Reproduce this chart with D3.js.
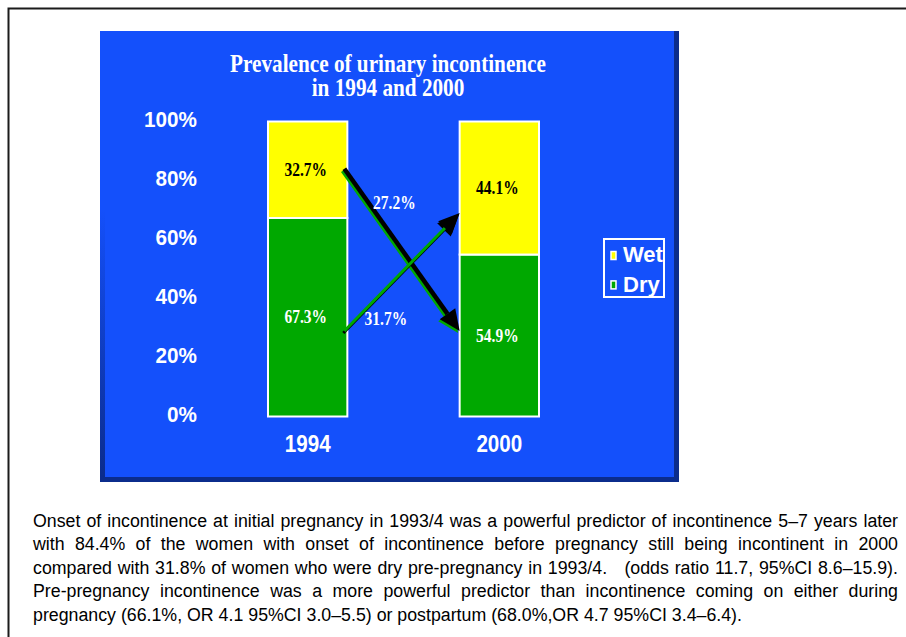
<!DOCTYPE html>
<html>
<head>
<meta charset="utf-8">
<script src="https://cdn.jsdelivr.net/npm/d3@7/dist/d3.min.js"></script>
<style>
  body { margin: 0; background: #fff; }
  svg { display: block; }
  .sans { font-family: "Liberation Sans", Arial, sans-serif; font-weight: bold; }
  .serif { font-family: "Liberation Serif", "Times New Roman", serif; font-weight: bold; }
  .para { font-family: "Liberation Sans Narrow", "Arial Narrow", "Liberation Sans", Arial, sans-serif; white-space: pre; }
</style>
</head>
<body>
<div id="chart"></div>
<script>
// data
var years = ["1994", "2000"];
var dryValues = [67.3, 54.9];
var wetValues = [32.7, 44.1];
var yTicks = [0, 20, 40, 60, 80, 100];
var legendNames = ["Wet", "Dry"];
// transitions drawn as arrows: start / end heights in % of the bars
var flowFrom = [84, 29];
var flowTo = [29, 69];
var flowLabels = ["27.2%", "31.7%"];
var titleLines = ["Prevalence of urinary incontinence", "in 1994 and 2000"];
var noteLines = [
  "Onset of incontinence at initial pregnancy in 1993/4 was a powerful predictor of incontinence 5\u20137 years later",
  "with 84.4% of the women with onset of incontinence before pregnancy still being incontinent in 2000",
  "compared with 31.8% of women who were dry pre-pregnancy in 1993/4.   (odds ratio 11.7, 95%CI 8.6\u201315.9).",
  "Pre-pregnancy incontinence was a more powerful predictor than incontinence coming on either during",
  "pregnancy (66.1%, OR 4.1 95%CI 3.0\u20135.5) or postpartum (68.0%,OR 4.7 95%CI 3.4\u20136.4)."
];

var W = 906, H = 637;
var blue = "#1450fb", navy = "#0b2c8c", yellow = "#ffff00", green = "#00a800";

var svg = d3.select("#chart").append("svg")
  .attr("width", W)
  .attr("height", H);

var defs = svg.append("defs");
var grad = defs.append("linearGradient")
  .attr("id", "leftShade")
  .attr("x1", 0).attr("y1", 0).attr("x2", 0).attr("y2", 1);
grad.append("stop").attr("offset", "0.4").attr("stop-color", navy).attr("stop-opacity", 0);
grad.append("stop").attr("offset", "1").attr("stop-color", navy).attr("stop-opacity", 1);

// outer frame
svg.append("rect")
  .attr("x", 8.5).attr("y", 8.5)
  .attr("width", 1000).attr("height", 1000)
  .attr("fill", "none")
  .attr("stroke", "#1b1b1b")
  .attr("stroke-width", 2);

// blue panel with shadow
svg.append("rect")
  .attr("x", 100).attr("y", 31).attr("width", 579).attr("height", 451)
  .attr("fill", navy);
svg.append("rect")
  .attr("x", 100).attr("y", 31).attr("width", 574).attr("height", 446)
  .attr("fill", blue);
svg.append("rect")
  .attr("x", 100).attr("y", 31).attr("width", 5).attr("height", 446)
  .attr("fill", "url(#leftShade)");

// title, two lines in one text, squeezed to the reference width
var title = svg.append("text")
  .classed("title serif", true)
  .attr("text-anchor", "middle")
  .attr("fill", "#fff")
  .style("font-size", "25px");
title.selectAll("tspan")
  .data(titleLines)
  .enter()
  .append("tspan")
  .attr("x", 0)
  .attr("y", function(d, i) { return i * 24.5; })
  .text(function(d) { return d; });
var t0 = title.select("tspan").node().getComputedTextLength();
var titleK = 316 / t0;
title.attr("transform", "translate(388,71.7) scale(" + titleK + ",1)");

// scales
var x = d3.scaleBand()
  .domain(years)
  .range([268, 539])
  .paddingInner(0.586)
  .paddingOuter(0);
var bw = x.bandwidth();
var y = d3.scaleLinear()
  .domain([0, 100])
  .range([416.5, 121.5]);

var chart = svg.append("g").classed("display", true);

// y axis labels
chart.append("g")
  .classed("axis y", true)
  .selectAll("text")
  .data(yTicks)
  .enter()
  .append("text")
  .classed("sans", true)
  .attr("fill", "#fff")
  .attr("text-anchor", "end")
  .style("font-size", "22px")
  .attr("transform", function(d) {
    return "translate(197," + (y(d) - 2) + ") scale(0.94,1)";
  })
  .attr("dy", "0.36em")
  .text(function(d) { return d + "%"; });

// x axis labels
chart.append("g")
  .classed("axis x", true)
  .selectAll("text")
  .data(years)
  .enter()
  .append("text")
  .classed("sans", true)
  .attr("fill", "#fff")
  .attr("text-anchor", "middle")
  .style("font-size", "24px")
  .attr("transform", function(d) {
    return "translate(" + (x(d) + bw / 2) + ",443) scale(0.86,1)";
  })
  .attr("dy", "0.36em")
  .text(function(d) { return d; });

// stacked bars
var stacks = years.map(function(yr, i) {
  return [
    { year: yr, name: "Dry", lo: 0, hi: dryValues[i], color: green, text: "#fff" },
    { year: yr, name: "Wet", lo: dryValues[i], hi: 100, color: yellow, text: "#000" }
  ];
});
var segs = d3.merge(stacks);
var values = { Dry: dryValues, Wet: wetValues };

chart.selectAll(".segment")
  .data(segs)
  .enter()
  .append("rect")
  .classed("segment", true)
  .attr("x", function(d) { return x(d.year); })
  .attr("y", function(d) { return y(d.hi); })
  .attr("width", bw)
  .attr("height", function(d) { return y(d.lo) - y(d.hi); })
  .attr("fill", function(d) { return d.color; })
  .attr("stroke", "#fff")
  .attr("stroke-width", 2);

chart.selectAll(".seg-label")
  .data(segs)
  .enter()
  .append("text")
  .classed("seg-label serif", true)
  .attr("text-anchor", "middle")
  .attr("fill", function(d) { return d.text; })
  .style("font-size", "18px")
  .attr("transform", function(d) {
    var cy = (y(d.lo) + y(d.hi)) / 2;
    return "translate(" + (x(d.year) + bw / 2 - 2) + "," + cy + ") scale(0.86,1)";
  })
  .attr("dy", "0.34em")
  .text(function(d) {
    return values[d.name][years.indexOf(d.year)].toFixed(1) + "%";
  });

// arrows between the bars
var flowStyle = [
  { main: "#000", shadow: green, width: 4.5, dx: -1.5, dy: 2 },
  { main: green, shadow: "#000", width: 3, dx: -1, dy: 2 }
];
var flowLabelOffset = [[50, 34], [41.5, -12]];

function drawArrow(g, x0, y0, x1, y1, lineColor, headColor, width) {
  var a = Math.atan2(y1 - y0, x1 - x0);
  var len = 21, half = 9.5;
  var bx = x1 - len * Math.cos(a), by = y1 - len * Math.sin(a);
  g.append("line")
    .attr("x1", x0).attr("y1", y0)
    .attr("x2", bx).attr("y2", by)
    .attr("stroke", lineColor)
    .attr("stroke-width", width);
  g.append("path")
    .attr("d", "M" + x1 + "," + y1 +
      "L" + (bx + half * Math.sin(a)) + "," + (by - half * Math.cos(a)) +
      "L" + (bx - half * Math.sin(a)) + "," + (by + half * Math.cos(a)) + "Z")
    .attr("fill", headColor);
}

var flows = chart.append("g").classed("flows", true);
flowFrom.forEach(function(v, i) {
  var x0 = x(years[0]) + bw - 3, y0 = y(v);
  var x1 = x(years[1]), y1 = y(flowTo[i]);
  var st = flowStyle[i];
  var g = flows.append("g");
  drawArrow(g, x0 + st.dx, y0 + st.dy, x1 + st.dx, y1 + st.dy, st.shadow, st.shadow, st.width);
  drawArrow(g, x0, y0, x1, y1, st.main, "#000", st.width);
  g.append("text")
    .classed("serif", true)
    .attr("text-anchor", "middle")
    .attr("fill", "#fff")
    .style("font-size", "18px")
    .attr("transform", "translate(" + (x0 + flowLabelOffset[i][0]) + "," +
      (y0 + flowLabelOffset[i][1]) + ") scale(0.86,1)")
    .attr("dy", "0.34em")
    .text(flowLabels[i]);
});

// legend
var legend = svg.append("g").classed("legend", true);
legend.append("rect")
  .attr("x", 604).attr("y", 239)
  .attr("width", 60).attr("height", 58)
  .attr("fill", "none")
  .attr("stroke", "#fff")
  .attr("stroke-width", 2);
var legendColors = { Wet: yellow, Dry: green };
var items = legend.selectAll(".item")
  .data(legendNames)
  .enter()
  .append("g")
  .classed("item", true)
  .attr("transform", function(d, i) { return "translate(0," + (i * 29.4) + ")"; });
items.append("rect")
  .attr("x", 611).attr("y", 251.5)
  .attr("width", 5).attr("height", 8)
  .attr("fill", function(d) { return legendColors[d]; })
  .attr("stroke", "#fff")
  .attr("stroke-width", 1.5);
items.append("text")
  .classed("sans", true)
  .attr("x", 623).attr("y", 262.3)
  .attr("fill", "#fff")
  .style("font-size", "22px")
  .text(function(d) { return d; });

// note paragraph, justified by hand
var note = svg.append("g").classed("note", true);
var probe = note.append("text").classed("para", true).style("font-size", "18px");
function measure(s) {
  probe.text(s);
  return probe.node().getComputedTextLength();
}
var spaceW = measure("a a") - measure("aa");
var lineWords = noteLines.map(function(line) {
  return line.split(" ").map(function(w) { return { w: w, len: w ? measure(w) : 0 }; });
});
var last = lineWords[lineWords.length - 1];
var lastW = d3.sum(last, function(d) { return d.len; }) + (last.length - 1) * spaceW;
var noteK = (742 - 33) / lastW;
var fullW = (898 - 33) / noteK;
probe.remove();

var noteG = note.append("g")
  .attr("transform", "translate(33,0) scale(" + noteK + ",1)");
lineWords.forEach(function(words, li) {
  var total = d3.sum(words, function(d) { return d.len; });
  var gap = li < lineWords.length - 1 ? (fullW - total) / (words.length - 1) : spaceW;
  var cx = 0;
  var t = noteG.append("text")
    .classed("para", true)
    .style("font-size", "18px")
    .attr("fill", "#000")
    .attr("y", 527 + li * 23.5);
  words.forEach(function(d) {
    if (d.w) {
      t.append("tspan").attr("x", cx).text(d.w);
    }
    cx += d.len + gap;
  });
});
</script>
</body>
</html>
